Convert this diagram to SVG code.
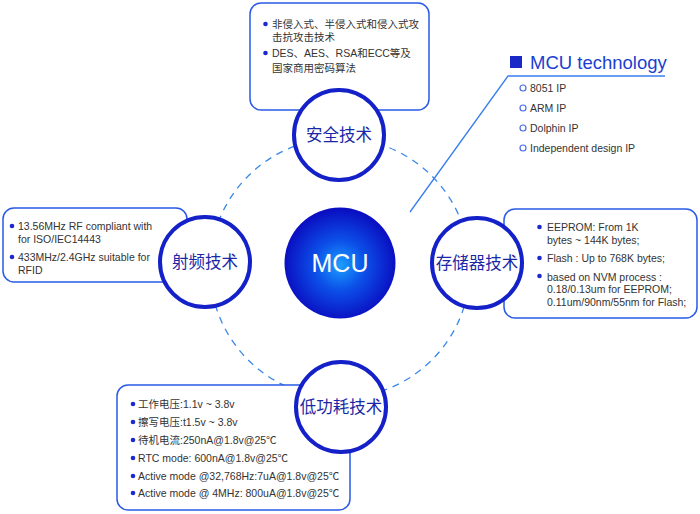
<svg xmlns="http://www.w3.org/2000/svg" width="700" height="514" viewBox="0 0 700 514">
<style>
.box{fill:#fff;stroke:#2a5ae6;stroke-width:1.5}
.node{fill:#fff;stroke:#1420c8;stroke-width:4}
.lbl{font-family:"Liberation Sans","Noto Sans CJK SC",sans-serif;font-size:16.5px;fill:#1a28a8;text-anchor:middle}
.t{font-family:"Liberation Sans","Noto Sans CJK SC",sans-serif;font-size:10.5px;fill:#333}
.li{font-family:"Liberation Sans","Noto Sans CJK SC",sans-serif;font-size:10.5px;fill:#333}
.dot{fill:#1a2ad0}
.ring{fill:none;stroke:#4a6ee0;stroke-width:1.2}
</style>
<defs>
<radialGradient id="g" cx="50%" cy="52%" r="50%">
<stop offset="0" stop-color="#1aa0ff"/>
<stop offset="0.45" stop-color="#0c50e8"/>
<stop offset="1" stop-color="#0a10c2"/>
</radialGradient>
</defs>
<rect width="700" height="514" fill="#fff"/>
<g id="connectors">
<circle cx="340" cy="268" r="130" fill="none" stroke="#3a88e8" stroke-width="1.3" stroke-dasharray="7 6"/>
<polyline points="410,212 508,76 665,76" fill="none" stroke="#3a7ff0" stroke-width="1.3"/>
</g>
<g id="node-security">
<rect class="box" x="250" y="3" width="179" height="107" rx="11"/>
<circle class="dot" cx="265.5" cy="24" r="2.3"/>
<text class="t" x="272" y="28">非侵入式、半侵入式和侵入式攻</text>
<text class="t" x="272" y="41">击抗攻击技术</text>
<circle class="dot" cx="265.5" cy="53" r="2.3"/>
<text class="t" x="272" y="57">DES、AES、RSA和ECC等及</text>
<text class="t" x="272" y="72">国家商用密码算法</text>
<circle class="node" cx="339" cy="135" r="45"/>
<text class="lbl" x="339" y="141">安全技术</text>
</g>
<g id="node-rf">
<rect class="box" x="3" y="208" width="184" height="74" rx="11"/>
<circle class="dot" cx="12" cy="226" r="2.3"/>
<text class="t" x="18" y="230">13.56MHz RF compliant with</text>
<text class="t" x="18" y="243">for ISO/IEC14443</text>
<circle class="dot" cx="12" cy="257" r="2.3"/>
<text class="t" x="18" y="261">433MHz/2.4GHz suitable for</text>
<text class="t" x="18" y="274">RFID</text>
<circle class="node" cx="205" cy="262" r="45"/>
<text class="lbl" x="205" y="268">射频技术</text>
</g>
<g id="node-storage">
<rect class="box" x="504" y="209" width="193" height="109" rx="11"/>
<circle class="dot" cx="539.5" cy="227" r="2.3"/>
<text class="t" x="547" y="231">EEPROM: From 1K</text>
<text class="t" x="547" y="244">bytes ~ 144K bytes;</text>
<circle class="dot" cx="539.5" cy="258" r="2.3"/>
<text class="t" x="547" y="262">Flash : Up to 768K bytes;</text>
<circle class="dot" cx="539.5" cy="276" r="2.3"/>
<text class="t" x="547" y="281">based on NVM process :</text>
<text class="t" x="547" y="293">0.18/0.13um for EEPROM;</text>
<text class="t" x="547" y="306">0.11um/90nm/55nm for Flash;</text>
<circle class="node" cx="477" cy="263" r="45"/>
<text class="lbl" x="477" y="269">存储器技术</text>
</g>
<g id="node-power">
<rect class="box" x="117" y="385" width="233" height="125" rx="11"/>
<circle class="dot" cx="133" cy="404" r="2.3"/>
<text class="t" x="138" y="408">工作电压:1.1v ~ 3.8v</text>
<circle class="dot" cx="133" cy="422" r="2.3"/>
<text class="t" x="138" y="426">擦写电压:t1.5v ~ 3.8v</text>
<circle class="dot" cx="133" cy="440" r="2.3"/>
<text class="t" x="138" y="444">待机电流:250nA@1.8v@25℃</text>
<circle class="dot" cx="133" cy="458" r="2.3"/>
<text class="t" x="138" y="462">RTC mode: 600nA@1.8v@25℃</text>
<circle class="dot" cx="133" cy="476" r="2.3"/>
<text class="t" x="138" y="480">Active mode @32,768Hz:7uA@1.8v@25℃</text>
<circle class="dot" cx="133" cy="493" r="2.3"/>
<text class="t" x="138" y="497">Active mode @ 4MHz: 800uA@1.8v@25℃</text>
<circle class="node" cx="341" cy="407" r="45"/>
<text class="lbl" x="341" y="413">低功耗技术</text>
</g>
<g id="node-mcu">
<circle cx="340" cy="263" r="55.5" fill="url(#g)"/>
<text x="340" y="272" font-family="Liberation Sans, sans-serif" font-size="25" fill="#fff" text-anchor="middle">MCU</text>
</g>
<g id="mcu-technology">
<rect x="510" y="56" width="12" height="12" fill="#1a28c8"/>
<text x="530" y="69" font-family="Liberation Sans, sans-serif" font-size="18.5" fill="#1a3fd0">MCU technology</text>
<circle class="ring" cx="523" cy="88" r="3"/>
<text class="li" x="530" y="92">8051 IP</text>
<circle class="ring" cx="523" cy="108" r="3"/>
<text class="li" x="530" y="112">ARM IP</text>
<circle class="ring" cx="523" cy="128" r="3"/>
<text class="li" x="530" y="132">Dolphin IP</text>
<circle class="ring" cx="523" cy="148" r="3"/>
<text class="li" x="530" y="152">Independent design IP</text>
</g>
</svg>
